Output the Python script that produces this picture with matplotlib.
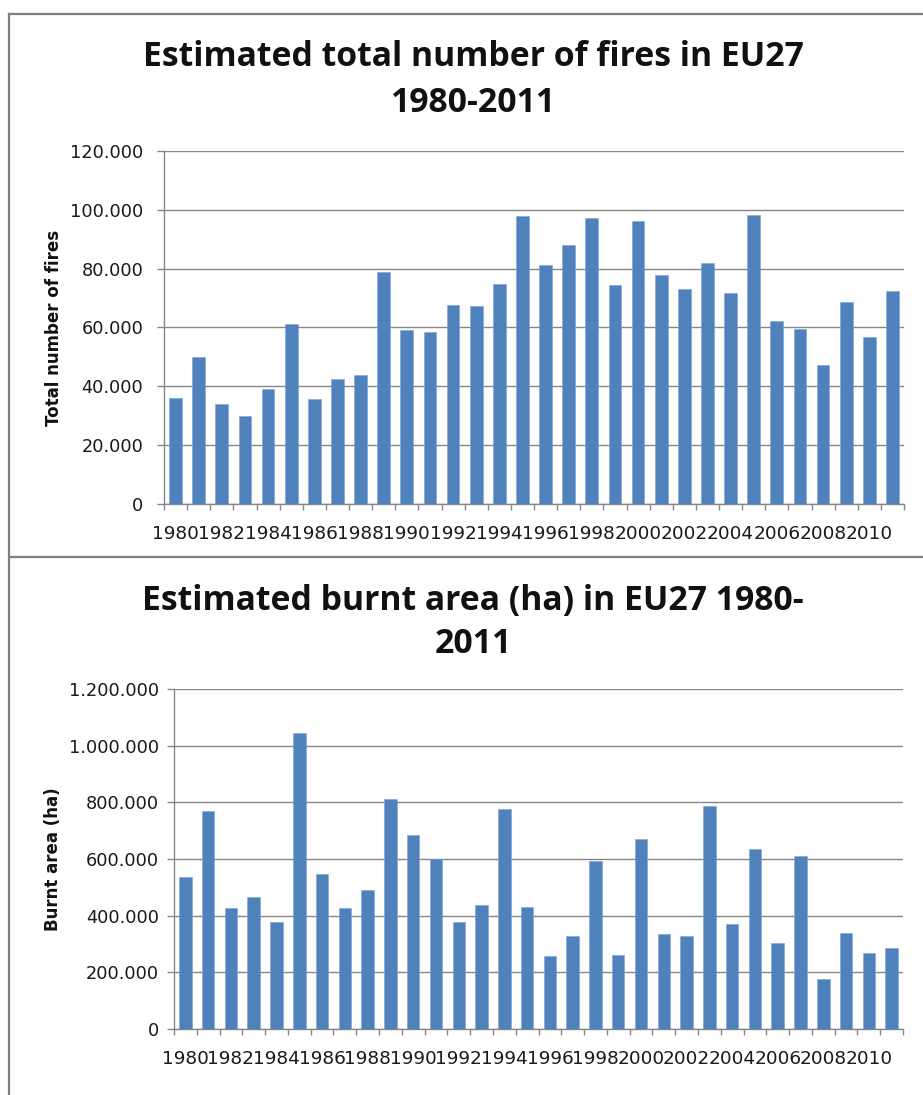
import matplotlib
matplotlib.use("Agg")
import matplotlib.pyplot as plt
from matplotlib.ticker import FuncFormatter, FixedLocator
from matplotlib.lines import Line2D

years = list(range(1980, 2012))
fires = [36000, 50000, 34000, 29800, 39000, 61200, 35700, 42500, 43900, 78900,
         59300, 58400, 67800, 67400, 74700, 97900, 81300, 88000, 97200, 74300,
         96200, 77900, 73000, 81800, 71600, 98100, 62200, 59500, 47100, 68700,
         56700, 72400]
burnt = [535000, 769000, 428000, 467000, 376000, 1043000, 547000, 428000, 490000, 813000,
         686000, 599000, 376000, 438000, 776000, 432000, 259000, 329000, 592000, 262000,
         669000, 336000, 327000, 787000, 369000, 636000, 303000, 610000, 178000, 340000,
         269000, 286000]
year_labels = [str(y) for y in years[::2]]

W, H = 923, 1095
BLUE = "#4F81BD"
GRID = "#878787"

fig = plt.figure(figsize=(W / 100, H / 100), dpi=100)

# panel frames
for xs, ys in [([9, W], [14, 14]), ([9, 9], [14, H]), ([9, W], [557, 557])]:
    fig.add_artist(Line2D([x / W for x in xs], [1 - y / H for y in ys],
                          color="#7f7f7f", lw=1.6))


def dots(v, pos):
    return f"{int(v):,}".replace(",", ".")


def panel(rect, values, ymax, step, ylabel, title_lines, title_y, ypad):
    l, t, r, b = rect
    ax = fig.add_axes([l / W, 1 - b / H, (r - l) / W, (b - t) / H])
    n = len(values)
    ax.bar(range(n), values, width=0.55, color=BLUE, edgecolor="#7ea3d3", linewidth=0.4, zorder=3)
    ax.set_xlim(-0.5, n - 0.5)
    ax.set_ylim(0, ymax)
    ax.set_yticks(range(0, ymax + 1, step))
    ax.yaxis.set_major_formatter(FuncFormatter(dots))
    ax.grid(axis="y", color=GRID, lw=1.0, zorder=0)
    ax.xaxis.set_major_locator(FixedLocator(list(range(0, n, 2))))
    ax.set_xticklabels(year_labels)
    ax.xaxis.set_minor_locator(FixedLocator([i - 0.5 for i in range(n + 1)]))
    ax.tick_params(axis="x", which="major", length=0, pad=15, labelsize=13.3, labelcolor="#1a1a1a")
    ax.tick_params(axis="x", which="minor", length=4, width=1, color=GRID)
    ax.tick_params(axis="y", length=5, width=1, color=GRID, pad=ypad, labelsize=12.8, labelcolor="#1a1a1a")
    for s in ["top", "right"]:
        ax.spines[s].set_visible(False)
    for s in ["left", "bottom"]:
        ax.spines[s].set_color(GRID)
        ax.spines[s].set_linewidth(1.0)
    ax.set_ylabel(ylabel, fontsize=12, fontweight="bold", color="#111111", labelpad=5)
    for txt, y in zip(title_lines, title_y):
        fig.text(473 / W, 1 - y / H, txt, ha="center", va="baseline",
                 fontsize=24.3, fontweight="bold", family=["Open Sans", "DejaVu Sans"], color="#111111")
    return ax


panel((164, 151, 904, 504), fires, 120000, 20000, "Total number of fires",
      ["Estimated total number of fires in EU27", "1980-2011"], [66, 112], 10)
panel((174, 689, 903, 1029), burnt, 1200000, 200000, "Burnt area (ha)",
      ["Estimated burnt area (ha) in EU27 1980-", "2011"], [610, 653], 6)

fig.savefig("out.png", dpi=100)
